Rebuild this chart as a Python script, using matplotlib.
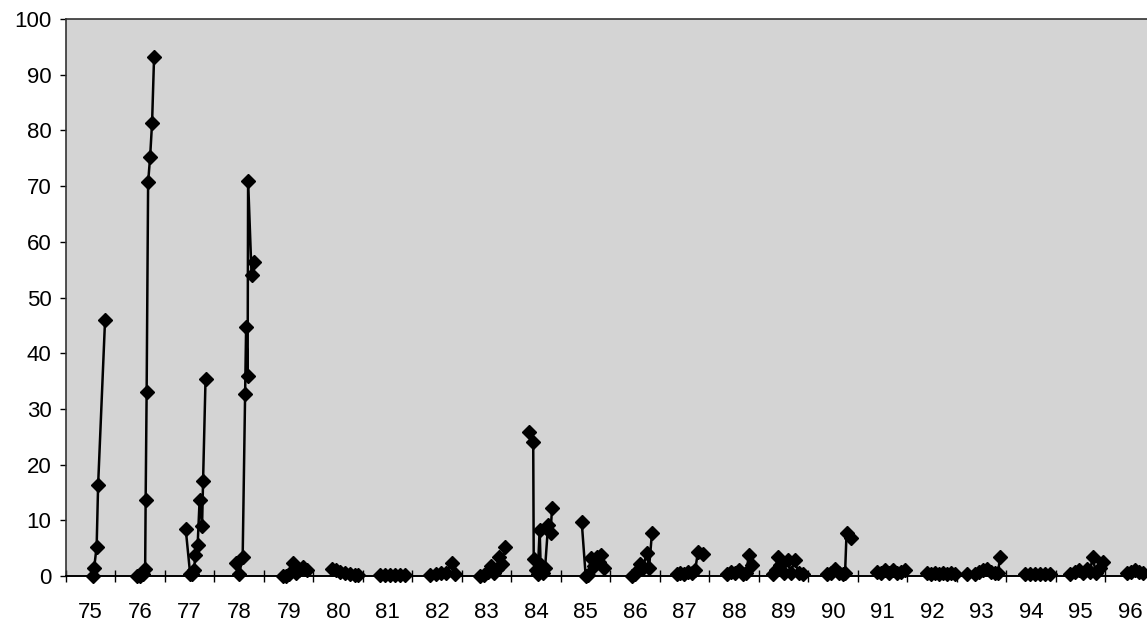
import numpy as np
from matplotlib import pyplot as plt

# one season per block, nan marks the break between seasons
dates = [
    75.04, 75.07, 75.12, 75.15, 75.29, np.nan,
    75.93, 76.00, 76.05, 76.10, 76.11, 76.13, 76.16, 76.20, 76.24, 76.28, np.nan,
    76.92, 77.01, 77.05, 77.09, 77.11, 77.16, 77.20, 77.25, 77.27, 77.32, np.nan,
    77.93, 78.00, 78.07, 78.12, 78.14, 78.17, 78.18, 78.25, 78.30, np.nan,
    78.88, 78.94, 79.00, 79.09, 79.15, 79.21, 79.29, 79.37, np.nan,
    79.87, 79.95, 80.04, 80.14, 80.24, 80.34, 80.40, np.nan,
    80.84, 80.94, 81.05, 81.15, 81.25, 81.35, np.nan,
    81.85, 81.97, 82.08, 82.18, 82.29, 82.36, np.nan,
    82.86, 82.94, 83.03, 83.09, 83.15, 83.21, 83.25, 83.31, 83.37, np.nan,
    83.85, 83.94, 83.95, 83.99, 84.03, 84.07, 84.09, 84.13, 84.18, 84.24, 84.29, 84.32, np.nan,
    84.92, 85.00, 85.05, 85.11, 85.17, 85.22, 85.27, 85.31, 85.37, np.nan,
    85.93, 86.00, 86.06, 86.10, 86.16, 86.23, 86.28, 86.34, np.nan,
    86.84, 86.90, 86.98, 87.06, 87.15, 87.21, 87.27, 87.37, np.nan,
    87.85, 87.93, 88.01, 88.10, 88.18, 88.24, 88.30, 88.35, np.nan,
    88.78, 88.84, 88.88, 88.92, 89.00, 89.08, 89.14, 89.22, 89.30, 89.39, np.nan,
    89.87, 89.95, 90.04, 90.12, 90.20, 90.24, 90.27, 90.37, np.nan,
    90.88, 90.96, 91.05, 91.13, 91.21, 91.29, 91.37, 91.45, np.nan,
    91.89, 91.97, 92.06, 92.14, 92.22, 92.30, 92.38, 92.46, np.nan,
    92.70, 92.86, 92.94, 93.02, 93.10, 93.19, 93.27, 93.33, 93.37, np.nan,
    93.87, 93.97, 94.08, 94.18, 94.28, 94.38, np.nan,
    94.78, 94.88, 94.96, 95.04, 95.13, 95.19, 95.24, 95.31, 95.39, 95.45, np.nan,
    95.93, 96.01, 96.09, 96.17, 96.25,
]
values = [
    0, 1.5, 5.3, 16.4, 46.0, np.nan,
    0, 0, 0.4, 1.2, 13.6, 33.0, 70.7, 75.2, 81.4, 93.1, np.nan,
    8.4, 0.3, 0.3, 1.0, 3.7, 5.5, 13.6, 9.0, 17.0, 35.4, np.nan,
    2.4, 0.4, 3.4, 32.7, 44.8, 36.0, 71.0, 54.0, 56.3, np.nan,
    0, 0, 0.3, 2.3, 0.6, 1.0, 1.6, 1.1, np.nan,
    1.3, 1.0, 0.8, 0.6, 0.4, 0.2, 0.1, np.nan,
    0.1, 0.1, 0.1, 0.1, 0.1, 0.1, np.nan,
    0.2, 0.3, 0.5, 0.6, 2.3, 0.3, np.nan,
    0, 0.2, 0.8, 1.8, 0.5, 1.2, 3.5, 2.2, 5.3, np.nan,
    25.8, 24.0, 3.0, 1.0, 0.3, 8.3, 2.0, 0.5, 1.5, 9.1, 7.7, 12.2, np.nan,
    9.7, 0, 0.2, 3.3, 1.8, 3.4, 2.5, 3.7, 1.4, np.nan,
    0, 0.3, 1.0, 2.2, 1.5, 4.1, 1.5, 7.8, np.nan,
    0.3, 0.5, 0.3, 0.8, 0.5, 1.0, 4.4, 4.0, np.nan,
    0.3, 0.8, 0.5, 1.0, 0.4, 0.6, 3.8, 2.0, np.nan,
    0.3, 1.0, 3.5, 2.0, 0.5, 2.9, 0.5, 2.8, 0.5, 0.3, np.nan,
    0.3, 0.5, 1.3, 0.5, 0.3, 0.5, 7.7, 6.9, np.nan,
    0.8, 0.5, 1.0, 0.5, 1.0, 0.5, 0.8, 1.0, np.nan,
    0.5, 0.3, 0.6, 0.4, 0.6, 0.3, 0.5, 0.3, np.nan,
    0.3, 0.3, 0.8, 1.0, 1.2, 0.8, 0.5, 0.5, 3.4, np.nan,
    0.3, 0.3, 0.3, 0.3, 0.3, 0.3, np.nan,
    0.3, 0.8, 1.0, 0.5, 1.2, 0.8, 3.4, 0.5, 1.5, 2.6, np.nan,
    0.5, 0.8, 1.0, 0.8, 0.5,
]
year_labels = list(range(75, 97))
y_ticks = list(range(0, 101, 10))

plt.rcParams['font.family'] = ['Liberation Sans', 'DejaVu Sans']

fig = plt.figure(figsize=(11.47, 6.23), dpi=100)
ax = fig.add_axes([0.0575, 0.0754, 0.9425, 0.894])
ax.set_facecolor('#d4d4d4')

ax.plot(dates, values, color='black', lw=1.8, marker='D', ms=7,
        mfc='black', mec='black', clip_on=False, zorder=3)

ax.set_xlim(74.5, 96.34)
ax.set_ylim(0, 100)

ax.set_yticks(y_ticks)
ax.tick_params(axis='y', direction='out', length=4.5, width=1,
               labelsize=16, pad=6)

# tick marks sit between years, labels centred on each year
ax.set_xticks([y - 0.5 for y in year_labels])
ax.set_xticklabels([])
ax.tick_params(axis='x', which='major', direction='inout', length=8, width=1)
ax.set_xticks(year_labels, minor=True)
ax.set_xticklabels([str(y) for y in year_labels], minor=True)
ax.tick_params(axis='x', which='minor', length=0, labelsize=16, pad=19)

for side in ['left', 'top']:
    ax.spines[side].set_color('#333333')
    ax.spines[side].set_linewidth(1.2)
ax.spines['bottom'].set_color('black')
ax.spines['bottom'].set_linewidth(1.4)
ax.spines['right'].set_visible(False)

plt.savefig('out.png', dpi=100)
